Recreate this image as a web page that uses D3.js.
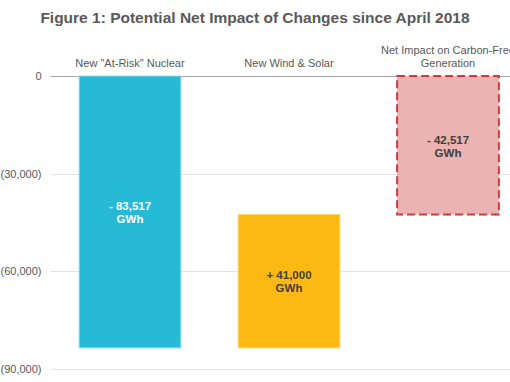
<!DOCTYPE html>
<html><head><meta charset="utf-8">
<script src="https://cdn.jsdelivr.net/npm/d3@7"></script>
<style>body{margin:0;background:#fff}svg{display:block}</style>
</head><body>
<script>
const title = "Figure 1: Potential Net Impact of Changes since April 2018";
const categories = [["New \"At-Risk\" Nuclear"], ["New Wind & Solar"], ["Net Impact on Carbon-Free", "Generation"]];
const barStart = [0, -83517, 0];
const barEnd = [-83517, -42517, -42517];
const barLabels = [["- 83,517", "GWh"], ["+ 41,000", "GWh"], ["- 42,517", "GWh"]];
const tickValues = [0, -30000, -60000, -90000];
const tickLabels = ["0", "(30,000)", "(60,000)", "(90,000)"];

const W = 510, H = 382;
const svg = d3.select("body").append("svg").attr("width", W).attr("height", H);
const font = "'Liberation Sans', Arial, sans-serif";

const y = d3.scaleLinear().domain([0, -90000]).range([76, 369]);
const x = d3.scaleBand().domain(d3.range(3)).range([50.5, 527.5]).paddingInner(0.36).paddingOuter(0.18);

svg.append("text").attr("x", 255).attr("y", 23).attr("text-anchor", "middle")
  .attr("font-family", font).attr("font-weight", "bold").attr("font-size", 15.5)
  .attr("fill", "#595959").text(title);

// gridlines
svg.selectAll(".grid").data(tickValues).join("line")
  .attr("x1", 50.5).attr("x2", W).attr("y1", d => Math.round(y(d)) + 0.5).attr("y2", d => Math.round(y(d)) + 0.5)
  .attr("stroke", (d, i) => i === 0 ? "#a6a6a6" : "#e3e3e3").attr("stroke-width", 1);

const axis = d3.axisLeft(y).tickValues(tickValues).tickFormat((d, i) => tickLabels[i]).tickSize(0).tickPadding(9);
const ag = svg.append("g").attr("transform", "translate(50.5,0)").call(axis);
ag.select(".domain").remove();
ag.selectAll("text").attr("font-family", font).attr("font-size", 11).attr("fill", "#595959");

const fills = ["#26bad6", "#fdb913", "#ebb3b1"];
const strokes = ["#8fdcec", "#fdd77a", "#d0393d"];
const idx = d3.range(3);

svg.selectAll(".bar").data(idx).join("rect")
  .attr("x", i => x(i)).attr("width", x.bandwidth())
  .attr("y", i => y(Math.max(barStart[i], barEnd[i])))
  .attr("height", i => Math.abs(y(barStart[i]) - y(barEnd[i])))
  .attr("fill", i => fills[i])
  .attr("stroke", i => strokes[i])
  .attr("stroke-width", i => i === 2 ? 2 : 1)
  .attr("stroke-dasharray", i => i === 2 ? "8,4" : null);

// category labels
idx.forEach(i => {
  const lines = categories[i];
  lines.forEach((t, j) => {
    svg.append("text").attr("x", x(i) + x.bandwidth() / 2)
      .attr("y", 67 - (lines.length - 1 - j) * 13)
      .attr("text-anchor", "middle").attr("font-family", font).attr("font-size", 11)
      .attr("fill", "#595959").text(t);
  });
});

// bar labels
const labelY = [-42000, -63000, -21600];
const labelColor = ["#ffffff", "#404040", "#404040"];
idx.forEach(i => {
  barLabels[i].forEach((t, j) => {
    svg.append("text").attr("x", x(i) + x.bandwidth() / 2)
      .attr("y", y(labelY[i]) + (j - 0.5) * 13 + 4)
      .attr("text-anchor", "middle").attr("font-family", font).attr("font-weight", "bold")
      .attr("font-size", 11.5).attr("fill", labelColor[i]).text(t);
  });
});
</script>
</body></html>
